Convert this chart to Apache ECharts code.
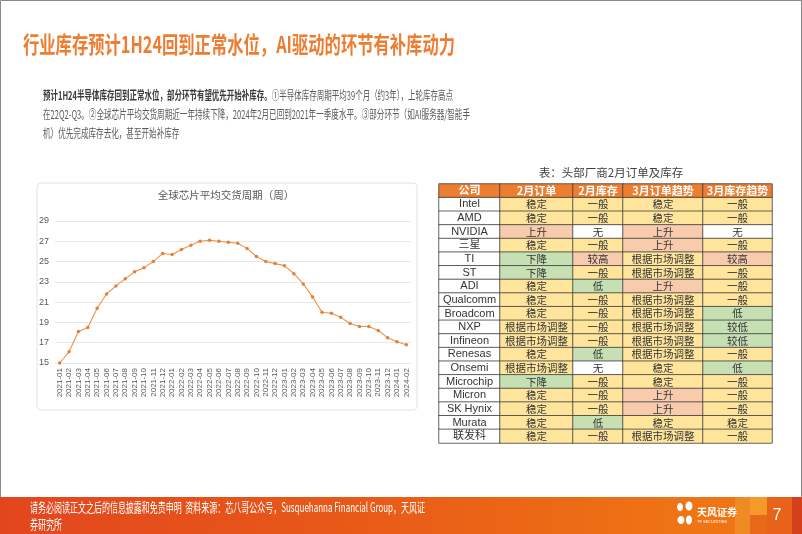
<!DOCTYPE html>
<html>
<head>
<meta charset="utf-8">
<script src="https://cdn.jsdelivr.net/npm/echarts@6/dist/echarts.min.js"></script>
<style>
html,body{margin:0;padding:0;background:#fff;}
#main{width:802px;height:534px;}
</style>
</head>
<body>
<div id="main"></div>
<script>
// ---------------- DATA ----------------
const slideTitle = '行业库存预计1H24回到正常水位，AI驱动的环节有补库动力';
const bodyBold = '预计1H24半导体库存回到正常水位，部分环节有望优先开始补库存。';
const bodyLine1 = '①半导体库存周期平均39个月（约3年），上轮库存高点';
const bodyLine2 = '在22Q2-Q3。②全球芯片平均交货周期近一年持续下降，2024年2月已回到2021年一季度水平。③部分环节（如AI服务器/智能手';
const bodyLine3 = '机）优先完成库存去化，甚至开始补库存';
const chartTitle = '全球芯片平均交货周期（周）';
const tableTitle = '表：头部厂商2月订单及库存';
const footerLine1 = '请务必阅读正文之后的信息披露和免责申明  资料来源：芯八哥公众号，Susquehanna Financial Group，天风证';
const footerLine2 = '券研究所';
const pageNumber = '7';

const months = ['2021-01','2021-02','2021-03','2021-04','2021-05','2021-06','2021-07','2021-08','2021-09','2021-10','2021-11','2021-12',
  '2022-01','2022-02','2022-03','2022-04','2022-05','2022-06','2022-07','2022-08','2022-09','2022-10','2022-11','2022-12',
  '2023-01','2023-02','2023-03','2023-04','2023-05','2023-06','2023-07','2023-08','2023-09','2023-10','2023-11','2023-12',
  '2024-01','2024-02'];
const leadTimeWeeks = [15.0,16.1,18.1,18.5,20.4,21.8,22.6,23.3,24.0,24.4,25.0,25.8,
  25.7,26.2,26.6,27.0,27.1,27.0,26.9,26.8,26.3,25.5,25.0,24.8,
  24.6,23.8,22.8,21.5,20.0,19.9,19.5,18.9,18.6,18.6,18.2,17.5,
  17.1,16.8];
const yTicks = [15,17,19,21,23,25,27,29];

const tableHeaders = ['公司','2月订单','2月库存','3月订单趋势','3月库存趋势'];
const companies = ['Intel','AMD','NVIDIA','三星','TI','ST','ADI','Qualcomm','Broadcom','NXP','Infineon','Renesas','Onsemi','Microchip','Micron','SK Hynix','Murata','联发科'];
const febOrders = ['稳定','稳定','上升','稳定','下降','下降','稳定','稳定','稳定','根据市场调整','根据市场调整','稳定','根据市场调整','下降','稳定','稳定','稳定','稳定'];
const febInventory = ['一般','一般','无','一般','较高','一般','低','一般','一般','一般','一般','低','无','一般','一般','一般','低','一般'];
const marOrderTrend = ['稳定','稳定','上升','上升','根据市场调整','根据市场调整','上升','根据市场调整','根据市场调整','根据市场调整','根据市场调整','根据市场调整','稳定','稳定','上升','上升','稳定','根据市场调整'];
const marInventoryTrend = ['一般','一般','无','一般','较高','一般','一般','一般','低','较低','较低','一般','低','一般','一般','一般','稳定','一般'];

// ---------------- STYLE ----------------
const ORANGE = '#ED7D31';
const cellColor = {
  '稳定':'#FFE59C','一般':'#FFE59C','根据市场调整':'#FFE59C',
  '上升':'#F8CBAD','较高':'#F8CBAD',
  '下降':'#C6E0B4','低':'#C6E0B4','较低':'#C6E0B4',
  '无':'#FFFFFF'
};
const CJK = '"Noto Sans CJK SC"';

const cv = document.createElement('canvas').getContext('2d');
function mw(text, size, weight, family){ cv.font = (weight||'normal') + ' ' + size + 'px ' + (family||CJK); return cv.measureText(text).width; }

// text fitting
const titleSize = 23;
const titleScale = 432 / mw(slideTitle, titleSize, 'bold');
const bodySize = 12;
const b1w = mw(bodyBold, bodySize, 'bold') + mw(bodyLine1, bodySize, 'normal');
const body1Scale = 410 / b1w;
const body2Scale = 427 / mw(bodyLine2, bodySize, 'normal');
const footSize = 13;
const footScale = 395 / mw(footerLine1, footSize, 'normal');

// ---------------- TABLE LAYOUT ----------------
const colEdges = [439, 500, 573, 623, 703, 772];
const tableTop = 184, tableBottom = 443;
const rowNames = ['header'].concat(companies);
const columns = [companies, febOrders, febInventory, marOrderTrend, marInventoryTrend];

const grids = [{left:55, top:221, width:356, height:142}];
const xAxes = [{
  type:'category', data:months, gridIndex:0, boundaryGap:true,
  axisLine:{show:false}, axisTick:{show:false},
  axisLabel:{rotate:90, interval:0, fontSize:8, color:'#595959', margin:5, fontFamily:'Liberation Sans'}
}];
const yAxes = [{
  type:'value', gridIndex:0, min:yTicks[0], max:yTicks[yTicks.length-1], interval:2,
  axisLine:{show:false}, axisTick:{show:false},
  axisLabel:{fontSize:9, color:'#595959', margin:6, fontFamily:'Liberation Sans'},
  splitLine:{lineStyle:{color:'#E8E8E8', width:1}}
}];
const series = [{
  type:'line', xAxisIndex:0, yAxisIndex:0, data:leadTimeWeeks,
  symbol:'circle', symbolSize:3.5, showSymbol:true,
  lineStyle:{color:'#EE9346', width:1.1},
  itemStyle:{color:'#E2813A'},
  emphasis:{disabled:true}, animation:false
}];

columns.forEach((col, c) => {
  const gi = c + 1;
  grids.push({left:colEdges[c], width:colEdges[c+1]-colEdges[c], top:tableTop, height:tableBottom-tableTop});
  xAxes.push({type:'category', gridIndex:gi, data:[tableHeaders[c]], show:false});
  yAxes.push({type:'category', gridIndex:gi, data:rowNames, inverse:true, show:false});
  const items = [{
    name: tableHeaders[c], value:[0,0,1],
    itemStyle:{color:ORANGE},
    label:{color:'#FFFFFF', fontWeight:'bold', fontSize:11}
  }];
  col.forEach((txt, i) => {
    items.push({
      name: txt, value:[0,i+1,1],
      itemStyle:{color: c===0 ? '#FFFFFF' : (cellColor[txt]||'#FFFFFF')}
    });
  });
  series.push({
    type:'heatmap', xAxisIndex:gi, yAxisIndex:gi, data:items,
    itemStyle:{borderColor:'#3C3C3C', borderWidth:0.8},
    label:{show:true, formatter:p=>p.name, color:'#333333', fontSize: c===0 ? 11 : 10.5,
      fontFamily: c===0 ? 'Liberation Sans, "Noto Sans CJK SC"' : CJK},
    emphasis:{disabled:true}, animation:false
  });
});

// ---------------- GRAPHICS ----------------
const graphics = [
  {type:'rect', z:-10, shape:{x:0.5, y:0.5, width:801, height:533}, style:{fill:'#FFFFFF', stroke:'#8A8A8A', lineWidth:1}},
  {type:'text', x:23, y:44, scaleX:titleScale, style:{text:slideTitle, fontSize:titleSize, fontWeight:'bold', fontFamily:CJK, fill:ORANGE, textVerticalAlign:'middle'}},
  {type:'text', x:43, y:95, scaleX:body1Scale, style:{
    text:'{b|'+bodyBold+'}{n|'+bodyLine1+'}', textVerticalAlign:'middle',
    rich:{b:{fontSize:bodySize, fontWeight:'bold', fontFamily:CJK, fill:'#3A3A3A'},
          n:{fontSize:bodySize, fontFamily:CJK, fill:'#5A5A5A'}}}},
  {type:'text', x:43, y:114, scaleX:body2Scale, style:{text:bodyLine2, fontSize:bodySize, fontFamily:CJK, fill:'#5A5A5A', textVerticalAlign:'middle'}},
  {type:'text', x:43, y:133, scaleX:body2Scale, style:{text:bodyLine3, fontSize:bodySize, fontFamily:CJK, fill:'#5A5A5A', textVerticalAlign:'middle'}},
  {type:'rect', z:-5, shape:{x:37, y:183, width:380, height:227, r:4}, style:{fill:'#FFFFFF', stroke:'#E3E3E3', lineWidth:1}},
  {type:'text', x:226, y:195, style:{text:chartTitle, fontSize:10.5, fontFamily:CJK, fill:'#595959', textAlign:'center', textVerticalAlign:'middle'}},
  {type:'text', x:611, y:173, style:{text:tableTitle, fontSize:11.5, fontFamily:CJK, fill:'#404040', textAlign:'center', textVerticalAlign:'middle'}},
  {type:'rect', shape:{x:0, y:497, width:802, height:37}, style:{fill:{type:'linear', x:0, y:0, x2:1, y2:0,
    colorStops:[{offset:0, color:'#E2461E'},{offset:0.45, color:'#E85A18'},{offset:0.85, color:'#EE7414'},{offset:1, color:'#EE7414'}]}}},
  {type:'rect', shape:{x:735, y:497, width:15, height:37}, style:{fill:'#F08A22'}},
  {type:'rect', shape:{x:750, y:497, width:17, height:18}, style:{fill:'#F39A2A'}},
  {type:'rect', shape:{x:750, y:515, width:17, height:19}, style:{fill:'#E9691A'}},
  {type:'rect', shape:{x:767, y:497, width:25, height:37}, style:{fill:'#E8621A'}},
  {type:'rect', shape:{x:792, y:497, width:10, height:37}, style:{fill:'#D5401A'}},
  {type:'text', x:30, y:507, scaleX:footScale, style:{text:footerLine1, fontSize:footSize, fontFamily:CJK, fill:'#FFFFFF', textVerticalAlign:'middle'}},
  {type:'text', x:30, y:524, scaleX:footScale, style:{text:footerLine2, fontSize:footSize, fontFamily:CJK, fill:'#FFFFFF', textVerticalAlign:'middle'}},
  {type:'ellipse', shape:{cx:680, cy:507, rx:3, ry:4}, style:{fill:'#FFFFFF'}},
  {type:'ellipse', shape:{cx:689, cy:506, rx:3.5, ry:4.5}, style:{fill:'#FFFFFF'}},
  {type:'ellipse', shape:{cx:681, cy:520, rx:3.5, ry:4}, style:{fill:'#FFFFFF'}},
  {type:'ellipse', shape:{cx:689, cy:520, rx:3, ry:4.5}, style:{fill:'#FFFFFF'}},
  {type:'text', x:697, y:512, style:{text:'天风证券', fontSize:10, fontWeight:'bold', fontFamily:CJK, fill:'#FFFFFF', textVerticalAlign:'middle'}},
  {type:'text', x:697, y:522, style:{text:'TF SECURITIES', fontSize:4, fontFamily:'Liberation Sans', fill:'#FFFFFF', textVerticalAlign:'middle'}},
  {type:'text', x:777, y:516, style:{text:pageNumber, fontSize:16, fontFamily:'Liberation Sans', fill:'#FFFFFF', textAlign:'center', textVerticalAlign:'middle'}}
];

const chart = echarts.init(document.getElementById('main'), null, {renderer:'canvas'});
chart.setOption({
  animation:false,
  backgroundColor:'#FFFFFF',
  grid:grids, xAxis:xAxes, yAxis:yAxes, series:series,
  graphic:{elements:graphics}
});
</script>
</body>
</html>
